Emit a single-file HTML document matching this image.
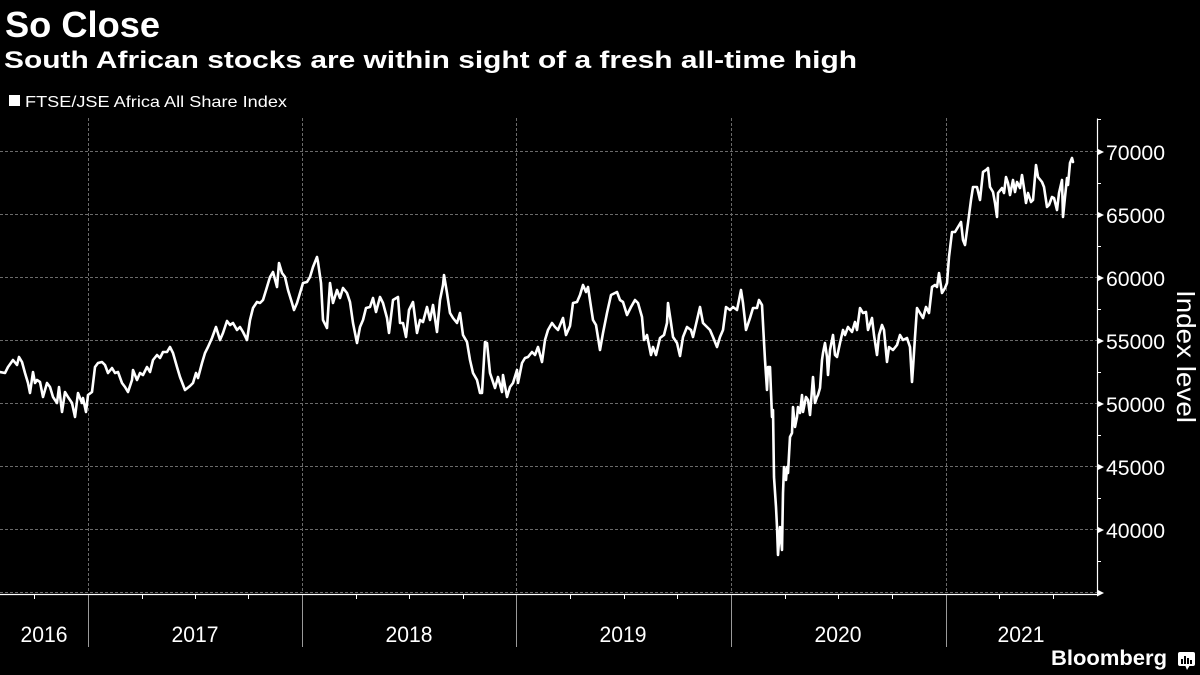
<!DOCTYPE html>
<html>
<head>
<meta charset="utf-8">
<style>
html,body{margin:0;padding:0;background:#000;}
svg{display:block;}
text{font-family:"Liberation Sans",Arial,sans-serif;fill:#fff;}
</style>
</head>
<body>
<svg width="1200" height="675" viewBox="0 0 1200 675" xmlns="http://www.w3.org/2000/svg">
<rect x="0" y="0" width="1200" height="675" fill="#000"/>

<!-- Titles -->
<text x="5" y="37" font-size="36" font-weight="bold" textLength="155" lengthAdjust="spacingAndGlyphs">So Close</text>
<text x="4" y="68" font-size="24" font-weight="bold" textLength="853" lengthAdjust="spacingAndGlyphs">South African stocks are within sight of a fresh all-time high</text>

<!-- Legend -->
<rect x="9" y="95" width="11" height="11" fill="#fff"/>
<text x="25" y="107" font-size="16" textLength="262" lengthAdjust="spacingAndGlyphs">FTSE/JSE Africa All Share Index</text>

<!-- Horizontal gridlines -->
<g stroke="#6a6a6a" stroke-width="1" stroke-dasharray="3,2">
<line x1="0" y1="151.5" x2="1097" y2="151.5"/>
<line x1="0" y1="214.5" x2="1097" y2="214.5"/>
<line x1="0" y1="277.5" x2="1097" y2="277.5"/>
<line x1="0" y1="340.5" x2="1097" y2="340.5"/>
<line x1="0" y1="403.5" x2="1097" y2="403.5"/>
<line x1="0" y1="466.5" x2="1097" y2="466.5"/>
<line x1="0" y1="529.5" x2="1097" y2="529.5"/>
<line x1="0" y1="592.5" x2="1097" y2="592.5"/>
</g>
<!-- Vertical year gridlines -->
<g stroke="#6a6a6a" stroke-width="1" stroke-dasharray="3,2">
<line x1="88.5" y1="118" x2="88.5" y2="592"/>
<line x1="302.5" y1="118" x2="302.5" y2="592"/>
<line x1="516.5" y1="118" x2="516.5" y2="592"/>
<line x1="731.5" y1="118" x2="731.5" y2="592"/>
<line x1="946.5" y1="118" x2="946.5" y2="592"/>
</g>

<!-- X axis -->
<line x1="0" y1="594.5" x2="1098" y2="594.5" stroke="#fff" stroke-width="1.2"/>
<g stroke="#fff" stroke-width="1">
<line x1="34.5" y1="595" x2="34.5" y2="599"/>
<line x1="142.5" y1="595" x2="142.5" y2="599"/>
<line x1="195.5" y1="595" x2="195.5" y2="599"/>
<line x1="248.5" y1="595" x2="248.5" y2="599"/>
<line x1="356.5" y1="595" x2="356.5" y2="599"/>
<line x1="409.5" y1="595" x2="409.5" y2="599"/>
<line x1="463.5" y1="595" x2="463.5" y2="599"/>
<line x1="570.5" y1="595" x2="570.5" y2="599"/>
<line x1="624.5" y1="595" x2="624.5" y2="599"/>
<line x1="677.5" y1="595" x2="677.5" y2="599"/>
<line x1="785.5" y1="595" x2="785.5" y2="599"/>
<line x1="838.5" y1="595" x2="838.5" y2="599"/>
<line x1="892.5" y1="595" x2="892.5" y2="599"/>
<line x1="999.5" y1="595" x2="999.5" y2="599"/>
<line x1="1053.5" y1="595" x2="1053.5" y2="599"/>
</g>
<g stroke="#9a9a9a" stroke-width="1">
<line x1="88.5" y1="595" x2="88.5" y2="647"/>
<line x1="302.5" y1="595" x2="302.5" y2="647"/>
<line x1="516.5" y1="595" x2="516.5" y2="647"/>
<line x1="731.5" y1="595" x2="731.5" y2="647"/>
<line x1="946.5" y1="595" x2="946.5" y2="647"/>
</g>
<g font-size="22" text-anchor="middle">
<text x="44" y="642" textLength="47" lengthAdjust="spacingAndGlyphs">2016</text>
<text x="195" y="642" textLength="47" lengthAdjust="spacingAndGlyphs">2017</text>
<text x="409" y="642" textLength="47" lengthAdjust="spacingAndGlyphs">2018</text>
<text x="623" y="642" textLength="47" lengthAdjust="spacingAndGlyphs">2019</text>
<text x="838" y="642" textLength="47" lengthAdjust="spacingAndGlyphs">2020</text>
<text x="1021" y="642" textLength="47" lengthAdjust="spacingAndGlyphs">2021</text>
</g>

<!-- Y axis -->
<line x1="1097.5" y1="118.5" x2="1097.5" y2="593" stroke="#fff" stroke-width="1.2"/>
<g stroke="#fff" stroke-width="1">
<line x1="1097" y1="119.5" x2="1101" y2="119.5"/>
<line x1="1097" y1="183.5" x2="1101" y2="183.5"/>
<line x1="1097" y1="246.5" x2="1101" y2="246.5"/>
<line x1="1097" y1="309.5" x2="1101" y2="309.5"/>
<line x1="1097" y1="372.5" x2="1101" y2="372.5"/>
<line x1="1097" y1="435.5" x2="1101" y2="435.5"/>
<line x1="1097" y1="498.5" x2="1101" y2="498.5"/>
<line x1="1097" y1="561.5" x2="1101" y2="561.5"/>
</g>
<g fill="#fff">
<polygon points="1097,148.5 1104,152 1097,155.5"/>
<polygon points="1097,211.5 1104,215 1097,218.5"/>
<polygon points="1097,274.5 1104,278 1097,281.5"/>
<polygon points="1097,337.5 1104,341 1097,344.5"/>
<polygon points="1097,400.5 1104,404 1097,407.5"/>
<polygon points="1097,463.5 1104,467 1097,470.5"/>
<polygon points="1097,526.5 1104,530 1097,533.5"/>
<polygon points="1097,589.5 1104,593 1097,596.5"/>
</g>
<g font-size="21">
<text x="1106" y="160" textLength="59" lengthAdjust="spacingAndGlyphs">70000</text>
<text x="1106" y="223" textLength="59" lengthAdjust="spacingAndGlyphs">65000</text>
<text x="1106" y="286" textLength="59" lengthAdjust="spacingAndGlyphs">60000</text>
<text x="1106" y="349" textLength="59" lengthAdjust="spacingAndGlyphs">55000</text>
<text x="1106" y="412" textLength="59" lengthAdjust="spacingAndGlyphs">50000</text>
<text x="1106" y="475" textLength="59" lengthAdjust="spacingAndGlyphs">45000</text>
<text x="1106" y="538" textLength="59" lengthAdjust="spacingAndGlyphs">40000</text>
</g>
<text transform="translate(1177,290) rotate(90)" x="0" y="0" font-size="26" textLength="133" lengthAdjust="spacingAndGlyphs">Index level</text>

<!-- Series -->
<polyline fill="none" stroke="#fff" stroke-width="2.6" stroke-linejoin="round" stroke-linecap="round" points="
0,372 5,373 8,367 13,360 17,365 19,357 22,362 25,373 28,383 30,393 33,372 35,383 37,380 40,382 43,397 47,383 50,387 53,397 57,403 59,387 62,412 65,392 68,397 72,403 75,417 78,393 82,403 83,398 86,412 88,395 92,392 95,367 98,363 102,362 105,365 108,373 112,368 115,373 118,372 122,383 125,387 128,392 132,380 133,370 137,380 140,373 143,375 147,367 150,372 153,360 157,355 160,358 163,352 167,352 170,347 173,353 177,367 180,377 185,390 190,386
193,383 196,373 198,378 202,363 205,353 208,347 212,338 216,327 220,340 223,333 227,321 230,325 233,323 237,330 240,327 243,332 247,340 250,320 253,308 257,302 260,303 263,300 267,287 270,277 273,272 277,287 279,263 282,273 285,277 288,290 292,303 294,310 297,303 300,293 303,283 307,282 310,277 313,267 317,257 318,262 321,283 323,320 327,328 330,283 333,303 337,290 340,298 343,288 347,293 350,302 353,323 357,343 360,327 363,320 366,308 370,307 373,298 376,312 380,297 383,303
387,318 389,333 393,300 398,297 400,323 403,323 406,337 409,310 413,302 417,333 420,320 423,322 427,307 430,320 433,305 437,332 440,300 443,285 444,275 447,293 450,313 453,318 457,323 460,313 463,335 467,342 470,360 473,373 477,380 480,393 482,393 485,342 487,343 490,373 495,388 498,377 502,392 503,375 507,397 510,387 513,383 517,370 518,383 522,363 525,358 528,357 532,352 535,355 538,347 542,362 545,340 548,330 552,323 555,327 558,330 563,318 566,335 570,326
573,303 577,302 580,295 583,285 586,292 588,287 591,307 593,320 596,325 600,350 603,333 607,313 611,295 617,292 620,300 623,302 627,315 631,307 635,300 638,303 642,317 644,340 647,335 651,355 653,347 656,355 660,338 664,335 667,323 668,303 671,323 673,337 677,343 680,356 683,337 687,327 691,330 693,337 697,320 700,307 703,323 707,327 710,330 713,337 717,347 720,337 723,330 726,307 730,310 733,307 737,310 741,290 743,303 746,330 750,318 753,308 757,308 759,300 762,305
764,342 765,360 767,390 768,367 770,367 772,417 773,410 774,477 776,507 777,527 778,555 780,527 782,550 783,493 784,467 786,480 787,467 788,473 790,437 792,433 793,407 795,427 797,417 798,407 800,413 802,395 803,412 806,397 808,400 810,415 812,390 813,377 815,403 817,397 818,395 820,388 822,360 823,353 825,343 827,357 828,375 830,350 833,335 835,355 837,357 840,343 843,330 845,335 848,327 852,332 855,322 857,330 860,308 863,313 866,312 868,330 872,318 874,335 877,355 879,335 882,325 884,330 887,362 889,347 893,350 897,345 900,335 903,340 907,338 910,347 912,382 913,368 915,337 917,308 920,313 923,318 926,307 929,313 932,287 935,285 937,287 939,273 942,293 945,288 947,283 949,257 952,232 955,232 958,227 961,222 963,240 965,245 968,223 971,200 973,187 977,187 980,200 983,172 986,170 988,168 990,187 993,192 995,203 997,217 998,193 1002,188 1004,193 1006,177 1008,183 1010,195 1013,180 1015,192 1017,182 1020,188 1022,175 1024,188 1026,203 1028,193 1031,202 1033,200 1036,165 1038,177 1042,182 1044,187 1047,207 1049,205 1052,197 1054,198 1057,210 1059,193 1062,180 1063,217 1065,197 1067,178 1068,185 1070,163 1072,158 1073,162"/>

<!-- Bloomberg logo -->
<text x="1051" y="665" font-size="21" font-weight="bold" textLength="116" lengthAdjust="spacingAndGlyphs">Bloomberg</text>
<rect x="1178" y="652" width="17" height="14" rx="2" fill="#fff"/>
<polygon points="1185,665 1190,665 1187,670" fill="#fff"/>
<g fill="#000">
<rect x="1181" y="659" width="2" height="5"/>
<rect x="1184" y="656" width="2" height="8"/>
<rect x="1187" y="658" width="2" height="6"/>
<rect x="1190" y="660" width="2" height="4"/>
</g>
</svg>
</body>
</html>
